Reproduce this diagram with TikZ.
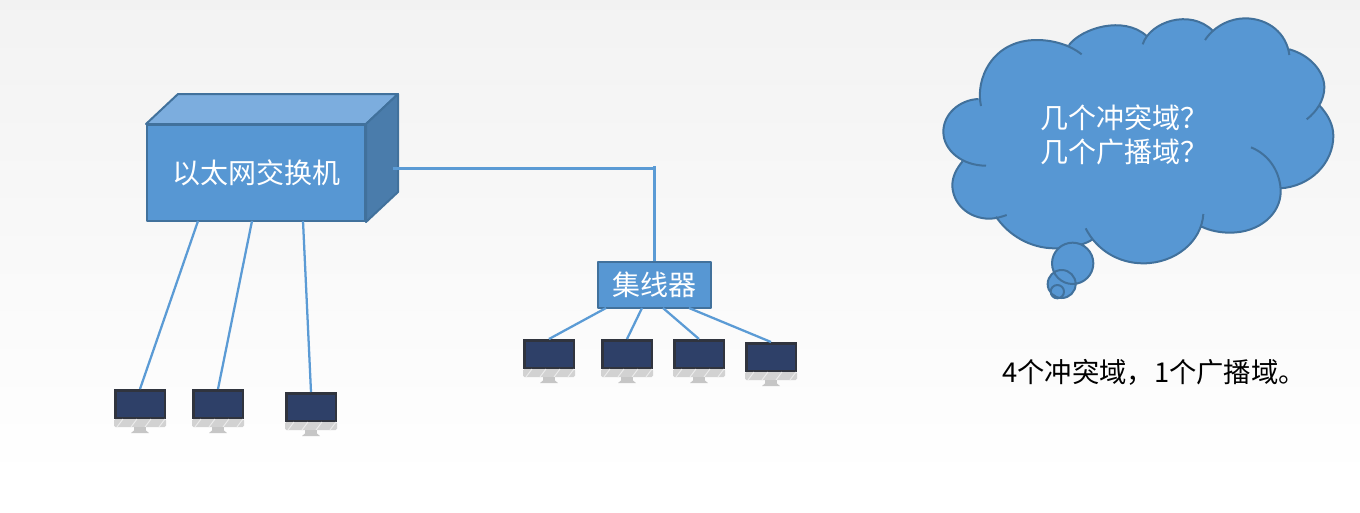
\documentclass[tikz,border=0pt]{standalone}
\usepackage{fontspec}
\setmainfont{Noto Sans CJK SC}
\usetikzlibrary{calc}

\definecolor{boxblue}{HTML}{5797D3}
\definecolor{boxedge}{HTML}{41719C}
\definecolor{linkblue}{HTML}{5B9BD5}
\definecolor{topblue}{HTML}{7CADDE}
\definecolor{sideblue}{HTML}{4A7CAB}
\definecolor{pcframe}{HTML}{30343E}
\definecolor{pcscreen}{HTML}{2E4068}
\definecolor{pcsilver}{HTML}{D2D2D2}
\definecolor{pcstand}{HTML}{C6C6C6}

\tikzset{
  linkline/.style={draw=linkblue,line width=1.7pt},
  boxedge/.style={draw=boxedge,line width=1.5pt,line join=round},
  boxnode/.style={boxedge,fill=boxblue,text=white,inner sep=0pt},
  pcnode/.style={fill=pcframe,minimum width=39pt,minimum height=22.5pt,inner sep=0pt,anchor=north}
}

% One monitor: name, x of its middle, y of its top
\newcommand{\monitor}[3]{
  \node[pcnode] (#1) at (#2,#3) {};
  \fill[pcscreen] (#2-23.5,#3+2.5) rectangle (#2+23.5,#3+27.5);
  \fill[pcsilver,rounded corners=1pt] (#2-26,#3+30) rectangle (#2+26,#3+38);
  \foreach \s in {-20,-6,8,22}
    \draw[white!55!pcsilver,line width=.7pt] (#2+\s-3,#3+38) -- (#2+\s+3,#3+30);
  \fill[pcstand] (#2-6,#3+38) rectangle (#2+6,#3+42);
  \fill[pcstand] (#2-6,#3+41.5) -- (#2+6,#3+41.5) -- (#2+9,#3+44) -- (#2-9,#3+44) -- cycle;
}

% Outline of the cloud, lobe by lobe (numbers are thirds of a pixel)
\def\cloudlobes{
  (183,318) .. controls (165,240) and (215,120) .. (350,120) .. controls (400,120) and (450,135) .. (485,163)
  (447,135) .. controls (485,85) and (610,45) .. (680,108)
  (668,133) .. controls (690,65) and (810,25) .. (878,92)
  (855,120) .. controls (885,75) and (935,55) .. (975,55) .. controls (1045,55) and (1100,100) .. (1108,165)
  (1108,148) .. controls (1170,165) and (1213,215) .. (1213,262) .. controls (1213,300) and (1190,335) .. (1160,358)
  (1197,315) .. controls (1225,345) and (1240,375) .. (1240,408) .. controls (1240,490) and (1170,560) .. (1080,565)
  (993,442) .. controls (1050,465) and (1082,520) .. (1082,575) .. controls (1082,640) and (1020,698) .. (930,698) .. controls (900,698) and (870,692) .. (845,680)
  (850,642) .. controls (845,725) and (765,790) .. (670,790) .. controls (595,790) and (530,750) .. (497,685)
  (515,720) .. controls (485,738) and (440,745) .. (405,745) .. controls (330,745) and (265,705) .. (228,650)
  (260,645) .. controls (240,652) and (225,656) .. (208,656) .. controls (145,656) and (97,610) .. (97,555) .. controls (97,530) and (110,505) .. (127,485)
  (198,497) .. controls (125,497) and (70,450) .. (70,395) .. controls (70,345) and (115,300) .. (175,297)
}
\def\cloudbubbles{
  (458,790) circle (62)
  (425,852) circle (42)
  (412,875) circle (20)
}

\begin{document}
\begin{tikzpicture}[x=.75pt,y=-.75pt]
\useasboundingbox (0,0) rectangle (1360,512);
% Background
\shade[top color=black!5,bottom color=white] (0,0) rectangle (1360,480);
\fill[white] (0,480) rectangle (1360,512);

% Switch: the front face is the node, top and side are added to it
\node[boxnode,minimum width=163.5pt,minimum height=72pt,font=\fontsize{21}{24}\selectfont] (switch) at (256,173) {以太网交换机};
\coordinate (swtop) at ($(switch.north east)+(32,-30)$);
\coordinate (swback) at ($(switch.north west)+(32,-30)$);
\coordinate (swlow) at ($(switch.south east)+(32,-30)$);
\draw[boxedge,fill=topblue] (switch.north west) -- (swback) -- (swtop) -- (switch.north east) -- cycle;
\draw[boxedge,fill=sideblue] (switch.north east) -- (swtop) -- (swlow) -- (switch.south east) -- cycle;

% Hub
\node[boxnode,minimum width=85pt,minimum height=34.5pt,font=\fontsize{21}{24}\selectfont] (hub) at (654.5,285) {集线器};

% Monitors on the switch
\monitor{pca}{140}{389}
\monitor{pcb}{218}{389}
\monitor{pcc}{311}{392}
% Monitors on the hub
\monitor{pcd}{549}{339}
\monitor{pce}{627}{339}
\monitor{pcf}{699}{339}
\monitor{pcg}{771}{342}

% Where the links leave the boxes
\coordinate (swa) at (198,221);
\coordinate (swb) at (252,221);
\coordinate (swc) at (303,221);
\coordinate (swd) at (393,168.5);
\coordinate (bend) at (656,168.5);
\coordinate (tick) at (654.5,166);
\coordinate (huba) at (606,308);
\coordinate (hubb) at (642,308);
\coordinate (hubc) at (663,308);
\coordinate (hubd) at (689,308);

% Links
\draw[linkline] (swa) -- (pca.north);
\draw[linkline] (swb) -- (pcb.north);
\draw[linkline] (swc) -- (pcc.north);
\draw[linkline] (swd) -- (bend);
\draw[linkline] (tick) -- (hub.north);
\draw[linkline] (huba) -- (pcd.north);
\draw[linkline] (hubb) -- (pce.north);
\draw[linkline] (hubc) -- (pcf.north);
\draw[linkline] (hubd) -- (pcg.north);

% Cloud
\begin{scope}[shift={(920,0)},x=.25pt,y=-.25pt]
\fill[boxblue] (175,297) -- (350,120) -- (447,135) -- (551,80) -- (680,108) -- (756,64) -- (878,92) -- (975,55) -- (1108,148) -- (1213,262) -- (1197,315) -- (1240,408) -- (1080,565) -- (1082,575) -- (930,698) -- (845,680) -- (670,790) -- (515,720) -- (405,745) -- (228,650) -- (208,656) -- (97,555) -- (127,485) -- (70,395) -- cycle;
\fill[boxblue] \cloudlobes;
\draw[boxedge] \cloudlobes;
\fill[boxblue] \cloudbubbles;
\draw[boxedge] \cloudbubbles;
\end{scope}
\node[text=white,align=center,inner sep=0pt,font=\fontsize{21}{25}\selectfont] (question) at (1124,135) {几个冲突域？\\几个广播域？};

% Answer
\node[anchor=west,inner sep=0pt,font=\fontsize{20.5}{24}\selectfont] (answer) at (1002,372) {4个冲突域，1个广播域。};
\end{tikzpicture}
\end{document}
